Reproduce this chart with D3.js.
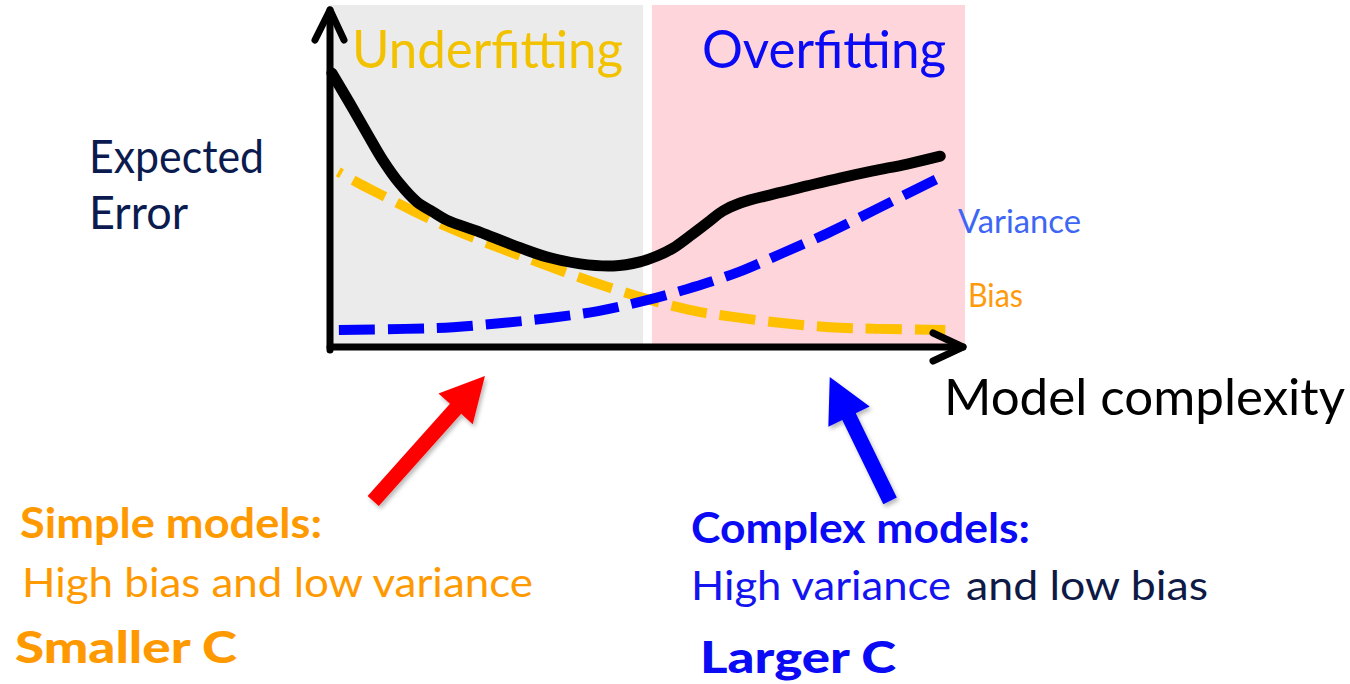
<!DOCTYPE html>
<html>
<head>
<meta charset="utf-8">
<script src="https://cdn.jsdelivr.net/npm/d3@7"></script>
<style>
  html, body { margin: 0; padding: 0; background: #ffffff; }
  svg { display: block; }
  text { font-family: Lato, "Open Sans", sans-serif; }
</style>
</head>
<body>
<svg id="chart" width="1350" height="684"></svg>
<script>
// Model complexity on x (0 = simplest, 1 = most complex), error on y (0..1)
const totalX    = [0.003, 0.031, 0.058, 0.083, 0.110, 0.137, 0.162, 0.184, 0.236, 0.288, 0.342, 0.394, 0.446, 0.488, 0.515, 0.540, 0.567, 0.594, 0.619, 0.646, 0.698, 0.751, 0.803, 0.855, 0.909, 0.961];
const totalErr  = [0.801, 0.713, 0.626, 0.547, 0.477, 0.424, 0.395, 0.371, 0.336, 0.298, 0.263, 0.243, 0.237, 0.249, 0.266, 0.289, 0.325, 0.363, 0.398, 0.421, 0.447, 0.471, 0.494, 0.515, 0.535, 0.558];

const biasX     = [0.013, 0.047, 0.087, 0.131, 0.189, 0.268, 0.339, 0.409, 0.483, 0.540, 0.583, 0.635, 0.712, 0.787, 0.863, 0.969];
const biasErr   = [0.512, 0.477, 0.439, 0.398, 0.348, 0.289, 0.240, 0.193, 0.149, 0.120, 0.102, 0.088, 0.070, 0.058, 0.053, 0.050];

const varX      = [0.014, 0.118, 0.194, 0.271, 0.346, 0.422, 0.499, 0.572, 0.643, 0.713, 0.784, 0.855, 0.924, 0.969];
const varErr    = [0.050, 0.053, 0.058, 0.070, 0.085, 0.105, 0.137, 0.175, 0.219, 0.275, 0.333, 0.398, 0.462, 0.503];

// Shaded regimes along the complexity axis
const regimes      = ["Underfitting", "Overfitting"];
const regimeStart  = [0.0, 0.507];
const regimeEnd    = [0.493, 1.0];

// Pointer arrows below the axis: tail and tip in chart units
const arrowNames = ["simple", "complex"];
const arrowTail  = [[0.068, -0.450], [0.882, -0.450]];
const arrowTip   = [[0.244, -0.085], [0.787, -0.088]];

const svg = d3.select("#chart");

const x = d3.scaleLinear().domain([0, 1]).range([330, 965]);
const y = d3.scaleLinear().domain([0, 1]).range([347, 5]);

// shadow under the pointer arrows
const defs = svg.append("defs");
const f = defs.append("filter").attr("id", "shadow")
  .attr("x", "-20%").attr("y", "-20%").attr("width", "140%").attr("height", "140%");
f.append("feDropShadow").attr("dx", 2).attr("dy", 3).attr("stdDeviation", 2)
  .attr("flood-color", "#000").attr("flood-opacity", 0.28);

// regime bands
const bandFill = ["#ebebeb", "#fdd5da"];
svg.append("g").selectAll("rect").data(regimes).join("rect")
  .attr("x", (d, i) => x(regimeStart[i]))
  .attr("width", (d, i) => x(regimeEnd[i]) - x(regimeStart[i]))
  .attr("y", y(1))
  .attr("height", y(0) - y(1))
  .attr("fill", (d, i) => bandFill[i]);

// regime titles
const titleColor = ["#f2c200", "#0a0af5"];
const titleX = [352, 702];
const titleW = [271, 244];
svg.append("g").selectAll("text").data(regimes).join("text")
  .attr("x", (d, i) => titleX[i])
  .attr("y", 68)
  .attr("font-size", 53)
  .attr("fill", (d, i) => titleColor[i])
  .attr("textLength", (d, i) => titleW[i])
  .attr("lengthAdjust", "spacingAndGlyphs")
  .text(d => d);

// curves
const line = d3.line().curve(d3.curveCatmullRom.alpha(0.5));
const pts = (xs, ys) => xs.map((v, i) => [x(v), y(ys[i])]);

svg.append("path")
  .attr("d", line(pts(biasX, biasErr)))
  .attr("fill", "none")
  .attr("stroke", "#ffc000")
  .attr("stroke-width", 10)
  .attr("stroke-dasharray", "36 13")
  .attr("stroke-dashoffset", 32);

svg.append("path")
  .attr("d", line(pts(varX, varErr)))
  .attr("fill", "none")
  .attr("stroke", "#0000ff")
  .attr("stroke-width", 10)
  .attr("stroke-dasharray", "36 13");

svg.append("path")
  .attr("d", line(pts(totalX, totalErr)))
  .attr("fill", "none")
  .attr("stroke", "#000000")
  .attr("stroke-width", 11)
  .attr("stroke-linecap", "round")
  .attr("stroke-linejoin", "round");

// axes with open arrowheads
const axes = svg.append("g").attr("fill", "none").attr("stroke", "#000")
  .attr("stroke-width", 7).attr("stroke-linecap", "round").attr("stroke-linejoin", "round");
axes.append("line").attr("x1", x(0)).attr("y1", y(0) + 3).attr("x2", x(0)).attr("y2", 10);
axes.append("polyline").attr("points", [[x(0) - 15, 40], [x(0), 10], [x(0) + 14, 40]].join(" "));
axes.append("line").attr("x1", x(0)).attr("y1", y(0)).attr("x2", x(1) - 2).attr("y2", y(0));
axes.append("polyline").attr("points", [[x(1) - 32, y(0) - 14], [x(1) - 2, y(0)], [x(1) - 32, y(0) + 14]].join(" "));

// axis titles and curve labels
const labels = svg.append("g");
labels.append("text").attr("x", 89).attr("y", 173).attr("font-size", 47).attr("fill", "#0b1b4f")
  .attr("textLength", 175).attr("lengthAdjust", "spacingAndGlyphs").text("Expected");
labels.append("text").attr("x", 89).attr("y", 229).attr("font-size", 47).attr("fill", "#0b1b4f")
  .attr("textLength", 99).attr("lengthAdjust", "spacingAndGlyphs").text("Error");
labels.append("text").attr("x", 944).attr("y", 415).attr("font-size", 51).attr("fill", "#000")
  .attr("textLength", 401).attr("lengthAdjust", "spacingAndGlyphs").text("Model complexity");
labels.append("text").attr("x", 958).attr("y", 233).attr("font-size", 33).attr("fill", "#3d66f5")
  .attr("textLength", 123).attr("lengthAdjust", "spacingAndGlyphs").text("Variance");
labels.append("text").attr("x", 968).attr("y", 307).attr("font-size", 33).attr("fill", "#ff9a0a")
  .attr("textLength", 55).attr("lengthAdjust", "spacingAndGlyphs").text("Bias");

// pointer arrows
const arrowColor = ["#ff0000", "#0000ff"];
function arrowPolygon(t0, t1) {
  const ax = x(t0[0]), ay = y(t0[1]), bx = x(t1[0]), by = y(t1[1]);
  const len = Math.hypot(bx - ax, by - ay);
  const ux = (bx - ax) / len, uy = (by - ay) / len;
  const nx = -uy, ny = ux;
  const shaft = 7.5, head = 23, headLen = 44;
  const hx = bx - ux * headLen, hy = by - uy * headLen;
  return [
    [ax + nx * shaft, ay + ny * shaft],
    [hx + nx * shaft, hy + ny * shaft],
    [hx + nx * head, hy + ny * head],
    [bx, by],
    [hx - nx * head, hy - ny * head],
    [hx - nx * shaft, hy - ny * shaft],
    [ax - nx * shaft, ay - ny * shaft]
  ].map(p => p.join(",")).join(" ");
}
svg.append("g").attr("filter", "url(#shadow)").selectAll("polygon").data(arrowNames).join("polygon")
  .attr("points", (d, i) => arrowPolygon(arrowTail[i], arrowTip[i]))
  .attr("fill", (d, i) => arrowColor[i]);

// captions under the arrows
const notes = svg.append("g");
notes.append("text").attr("x", 20).attr("y", 538).attr("font-size", 42).attr("font-weight", 700)
  .attr("fill", "#ff9900").attr("textLength", 302).attr("lengthAdjust", "spacingAndGlyphs").text("Simple models:");
notes.append("text").attr("x", 22).attr("y", 597).attr("font-size", 40)
  .attr("fill", "#ff9900").attr("textLength", 511).attr("lengthAdjust", "spacingAndGlyphs").text("High bias and low variance");
notes.append("text").attr("x", 15).attr("y", 663).attr("font-size", 43).attr("font-weight", 900)
  .attr("fill", "#ff9900").attr("textLength", 222).attr("lengthAdjust", "spacingAndGlyphs").text("Smaller C");

notes.append("text").attr("x", 691).attr("y", 543).attr("font-size", 42).attr("font-weight", 700)
  .attr("fill", "#0a0af5").attr("textLength", 339).attr("lengthAdjust", "spacingAndGlyphs").text("Complex models:");
notes.append("text").attr("x", 691).attr("y", 600).attr("font-size", 40)
  .attr("fill", "#1414f0").attr("textLength", 260).attr("lengthAdjust", "spacingAndGlyphs").text("High variance");
notes.append("text").attr("x", 966).attr("y", 600).attr("font-size", 40)
  .attr("fill", "#0e1a45").attr("textLength", 242).attr("lengthAdjust", "spacingAndGlyphs").text("and low bias");
notes.append("text").attr("x", 700).attr("y", 673).attr("font-size", 43).attr("font-weight", 900)
  .attr("fill", "#0a0af5").attr("textLength", 196).attr("lengthAdjust", "spacingAndGlyphs").text("Larger C");
</script>
</body>
</html>
